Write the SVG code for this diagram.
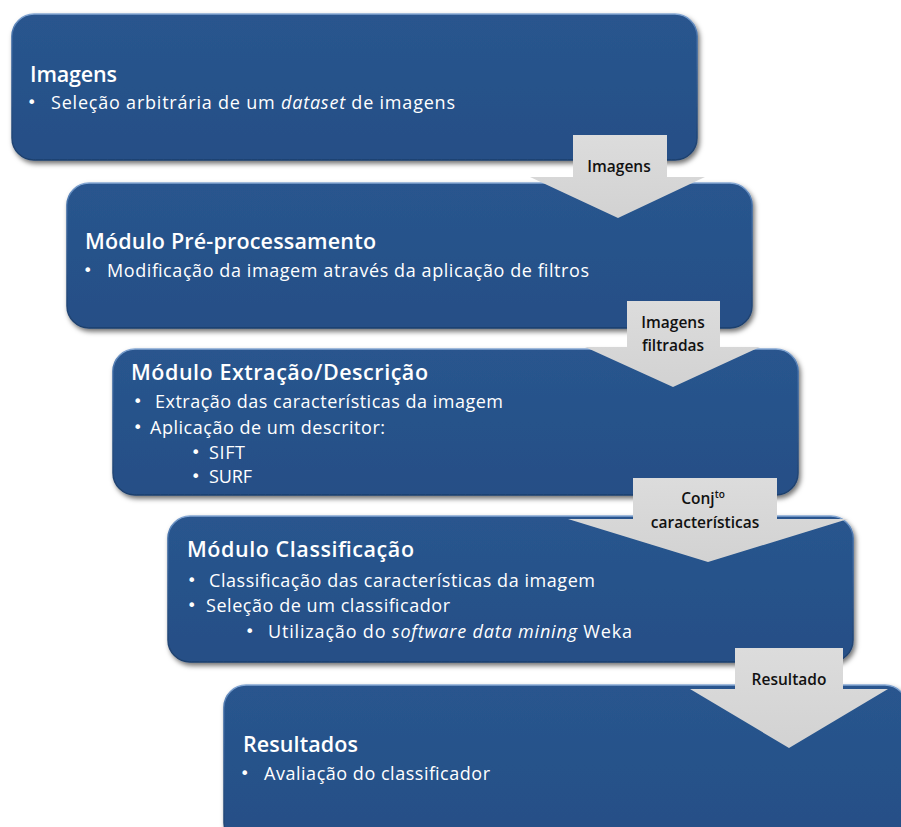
<svg xmlns="http://www.w3.org/2000/svg" width="901" height="827" viewBox="0 0 901 827">
  <style>
    .box { fill: url(#boxFill); stroke: url(#boxEdge); stroke-width: 1.5; filter: url(#shadow); }
    .title { font-family: "Open Sans", "DejaVu Sans", sans-serif; font-weight: 600; font-size: 21.5px; fill: #ffffff; }
    .item { font-family: "Open Sans", "DejaVu Sans", sans-serif; font-size: 18px; fill: #ffffff; }
    .dot { font-family: "DejaVu Sans", sans-serif; font-size: 16px; fill: #ffffff; }
    .flow { fill: url(#arrowFill); }
    .flowLabel { font-family: "Open Sans", "Liberation Sans", sans-serif; font-weight: 600; font-size: 15.5px; fill: #111111; text-anchor: middle; }
  </style>
  <defs>
    <linearGradient id="boxFill" x1="0" y1="0" x2="0" y2="1">
      <stop offset="0" stop-color="#29558e"/>
      <stop offset="1" stop-color="#254f86"/>
    </linearGradient>
    <linearGradient id="boxEdge" x1="0" y1="0" x2="0" y2="1">
      <stop offset="0" stop-color="#86a8d4"/>
      <stop offset="0.15" stop-color="#3a68a2"/>
      <stop offset="1" stop-color="#1d3f6c"/>
    </linearGradient>
    <linearGradient id="arrowFill" x1="0" y1="0" x2="0" y2="1">
      <stop offset="0" stop-color="#dcdcdc"/>
      <stop offset="1" stop-color="#d2d2d2"/>
    </linearGradient>
    <filter id="shadow" x="-5%" y="-10%" width="112%" height="125%">
      <feDropShadow dx="2" dy="3" stdDeviation="2.5" flood-color="#000000" flood-opacity="0.55"/>
    </filter>
  </defs>

  <!-- Stage 1 -->
  <g id="imagens">
    <rect class="box" x="12" y="14" width="685" height="146" rx="22"/>
    <text class="title" x="30" y="82" textLength="87">Imagens</text>
    <text class="dot" x="27" y="108">•</text>
    <text class="item" x="51" y="109" textLength="404">Seleção  arbitrária de um <tspan font-style="italic">dataset</tspan> de imagens</text>
  </g>

  <!-- Stage 2 -->
  <g id="pre-processamento">
    <rect class="box" x="67" y="183" width="685" height="145" rx="22"/>
    <text class="title" x="85" y="249" textLength="291">Módulo Pré-processamento</text>
    <text class="dot" x="83" y="276">•</text>
    <text class="item" x="107" y="277" textLength="482">Modificação da imagem através da aplicação de filtros</text>
  </g>

  <!-- Stage 3 -->
  <g id="extracao-descricao">
    <rect class="box" x="113" y="349" width="685" height="146" rx="22"/>
    <text class="title" x="131" y="380" textLength="297">Módulo  Extração/Descrição</text>
    <text class="dot" x="133" y="407">•</text>
    <text class="item" x="155" y="408" textLength="348">Extração das características da imagem</text>
    <text class="dot" x="133" y="433">•</text>
    <text class="item" x="150" y="434" textLength="235">Aplicação de um descritor:</text>
    <text class="dot" x="191" y="458">•</text>
    <text class="item" x="209" y="459" textLength="36">SIFT</text>
    <text class="dot" x="191" y="482">•</text>
    <text class="item" x="209" y="483" textLength="43">SURF</text>
  </g>

  <!-- Stage 4 -->
  <g id="classificacao">
    <rect class="box" x="168" y="516" width="685" height="146" rx="22"/>
    <text class="title" x="187" y="557" textLength="227">Módulo  Classificação</text>
    <text class="dot" x="187" y="586">•</text>
    <text class="item" x="209" y="587" textLength="386">Classificação das características da imagem</text>
    <text class="dot" x="187" y="611">•</text>
    <text class="item" x="206" y="612" textLength="244">Seleção de um classificador</text>
    <text class="dot" x="245" y="637">•</text>
    <text class="item" x="268" y="638" textLength="364">Utilização do <tspan font-style="italic">software data mining</tspan> Weka</text>
  </g>

  <!-- Stage 5 -->
  <g id="resultados">
    <rect class="box" x="224" y="685" width="683" height="160" rx="22"/>
    <text class="title" x="243" y="752" textLength="115">Resultados</text>
    <text class="dot" x="240" y="779">•</text>
    <text class="item" x="264" y="780" textLength="226">Avaliação do classificador</text>
  </g>

  <!-- Block arrows between stages -->
  <g id="connectors">
    <polygon class="flow" points="573,135 667,135 667,177 705,177 618,218 530,177 573,177"/>
    <text class="flowLabel" x="619" y="172">Imagens</text>

    <polygon class="flow" points="627,301 720,301 720,347 760,347 673,387 585,347 627,347"/>
    <text class="flowLabel" x="673" y="328">Imagens</text>
    <text class="flowLabel" x="673" y="351">filtradas</text>

    <polygon class="flow" points="633,478 777,478 777,519 848,519 708,562 568,519 633,519"/>
    <text class="flowLabel" x="703" y="504">Conj<tspan font-size="10" dy="-6">to</tspan></text>
    <text class="flowLabel" x="705" y="528">características</text>

    <polygon class="flow" points="735,648 843,648 843,689 888,689 789,748 690,689 735,689"/>
    <text class="flowLabel" x="789" y="685">Resultado</text>
  </g>
</svg>
